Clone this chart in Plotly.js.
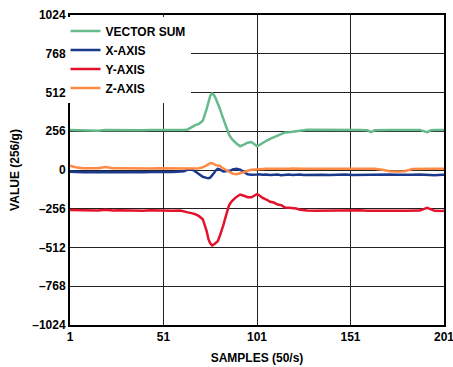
<!DOCTYPE html>
<html>
<head>
<meta charset="utf-8">
<script src="https://cdn.plot.ly/plotly-3.0.1.min.js"></script>
<style>html,body{margin:0;padding:0;background:#fff;}#chart{width:453px;height:367px;}</style>
</head>
<body>
<div id="chart"></div>
<script>
const samples = [1,4,8,12,16,20,24,28,32,36,40,44,48,52,56,60,62,64,66,68,70,72,74,75,76,77,78,79,80,81,82,83,84,85,86,87,88,90,92,94,96,98,100,101,102,104,106,108,110,112,114,116,118,120,122,124,126,128,132,136,140,144,148,152,156,160,162,164,168,172,176,180,184,188,192,194,196,200,201];

const vectorSum = [264,263,262,263,260,264,263,264,263,264,263,264,263,264,263,264,264,268,285,296,305,325,400,450,490,505,495,470,445,410,372,335,300,265,235,215,198,175,157,168,180,185,170,158,163,180,193,205,215,230,240,248,250,252,255,258,262,266,266,268,267,266,267,266,265,262,250,262,265,264,265,266,264,265,250,262,265,264,264];

const xAxis = [-12,-14,-15,-13,-15,-14,-15,-13,-15,-14,-15,-13,-15,-14,-13,-12,-8,2,5,-10,-30,-45,-52,-54,-50,-38,-20,-2,8,4,-6,-10,-9,-8,-8,-4,4,8,2,-15,-28,-32,-33,-30,-28,-32,-30,-33,-31,-30,-34,-32,-30,-33,-31,-30,-33,-32,-30,-32,-33,-31,-30,-33,-32,-30,-31,-33,-31,-30,-32,-33,-31,-30,-33,-32,-34,-32,-32];

const yAxis = [-265,-266,-267,-266,-268,-263,-267,-266,-268,-267,-270,-266,-268,-267,-269,-268,-272,-280,-285,-292,-305,-325,-400,-455,-485,-498,-492,-478,-470,-440,-405,-365,-320,-270,-235,-215,-200,-178,-162,-170,-180,-180,-165,-160,-165,-185,-195,-210,-215,-228,-232,-248,-250,-252,-255,-262,-266,-268,-270,-269,-270,-268,-270,-269,-266,-270,-268,-269,-270,-268,-269,-270,-267,-268,-250,-262,-270,-271,-270];

const zAxis = [28,18,12,10,12,20,12,11,10,10,11,10,12,11,10,10,9,8,9,10,12,18,30,40,44,45,38,32,30,28,18,10,2,-6,-12,-18,-24,-28,-22,-12,-5,2,5,6,8,7,9,8,8,9,8,9,8,10,8,9,8,9,8,9,10,8,9,8,9,8,9,8,2,-8,-10,-8,6,9,10,9,8,9,8];

const seriesNames = ["VECTOR SUM","X-AXIS","Y-AXIS","Z-AXIS"];
const seriesColors = ["#66ba8c","#1c3a8c","#e3132e","#ff8a45"];
const xTickVals = [1,51,101,151,201];
const xTickText = ["1","51","101","151","201"];
const yTickVals = [-1024,-768,-512,-256,0,256,512,768,1024];
const yTickText = ["\u20131024","\u2013768","\u2013512","\u2013256","0","256","512","768","1024"];

const allSeries = [vectorSum, xAxis, yAxis, zAxis];
const traces = allSeries.map((ys, i) => ({
  x: samples, y: ys, type: "scatter", mode: "lines",
  name: seriesNames[i],
  line: {color: seriesColors[i], width: 2.5}
}));

const fontFam = "Liberation Sans, Arial, sans-serif";
const layout = {
  width: 453, height: 367,
  margin: {l: 70, r: 9, t: 15, b: 42},
  paper_bgcolor: "#fff", plot_bgcolor: "#fff",
  font: {family: fontFam, size: 12, color: "#000", weight: 700},
  showlegend: true,
  legend: {x: -0.012, y: 0.995, xanchor: "left", yanchor: "top", bgcolor: "#fff",
           font: {family: fontFam, size: 12, color: "#000", weight: 700}, tracegroupgap: 0},
  xaxis: {
    range: [1, 201], tickmode: "array", tickvals: xTickVals, ticktext: xTickText,
    showgrid: true, gridcolor: "#222", gridwidth: 1,
    showline: true, mirror: true, linecolor: "#000", linewidth: 2,
    ticks: "", zeroline: false, ticklabeloverflow: "allow",
    tickfont: {family: fontFam, size: 12, color: "#000", weight: 700},
    title: {text: "SAMPLES (50/s)", standoff: 10, font: {family: fontFam, size: 12, color: "#000", weight: 700}}
  },
  yaxis: {
    range: [-1024, 1024], tickmode: "array", tickvals: yTickVals, ticktext: yTickText,
    showgrid: true, gridcolor: "#222", gridwidth: 1,
    showline: true, mirror: true, linecolor: "#000", linewidth: 2,
    ticks: "", zeroline: true, zerolinecolor: "#222", zerolinewidth: 1,
    tickfont: {family: fontFam, size: 12, color: "#000", weight: 700},
    title: {text: "VALUE (256/g)", standoff: 10, font: {family: fontFam, size: 12, color: "#000", weight: 700}}
  }
};

Plotly.newPlot("chart", traces, layout, {displayModeBar: false, staticPlot: true});
</script>
</body>
</html>
